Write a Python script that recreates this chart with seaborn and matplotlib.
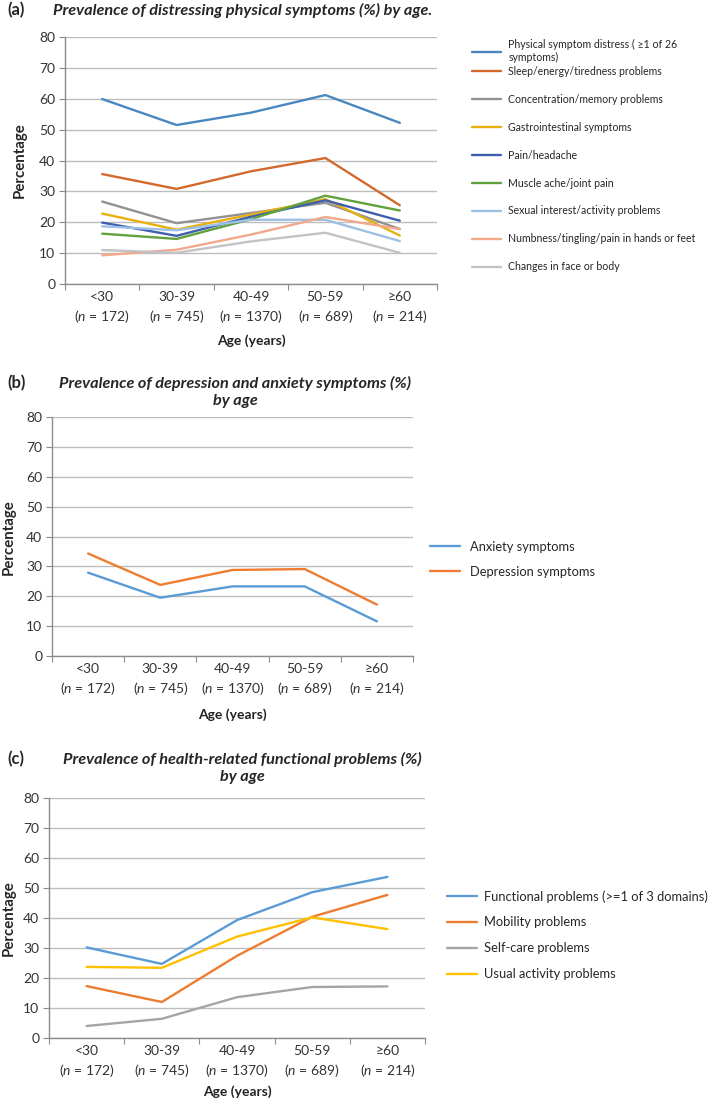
import pandas as pd
import numpy as np
import seaborn as sns
import matplotlib.pyplot as plt
from matplotlib.ticker import FixedLocator, NullFormatter

# age groups and sample sizes (shared by all three panels)
age_groups = ['<30', '30-39', '40-49', '50-59', '≥60']
n_sizes = [172, 745, 1370, 689, 214]

# (a) distressing physical symptoms (%)
phys_names = ['Physical symptom distress ( ≥1 of 26\nsymptoms)',
              'Sleep/energy/tiredness problems',
              'Concentration/memory problems',
              'Gastrointestinal symptoms',
              'Pain/headache',
              'Muscle ache/joint pain',
              'Sexual interest/activity problems',
              'Numbness/tingling/pain in hands or feet',
              'Changes in face or body']
physical_distress = [59.9, 51.5, 55.5, 61.2, 52.2]
sleep_energy = [35.6, 30.8, 36.5, 40.8, 25.5]
concentration = [26.7, 19.7, 23.0, 26.3, 17.8]
gastrointestinal = [22.8, 17.6, 22.5, 27.5, 15.7]
pain_headache = [19.9, 15.6, 21.8, 27.1, 20.5]
muscle_joint = [16.3, 14.6, 21.0, 28.6, 23.8]
sexual_interest = [18.7, 17.4, 20.8, 20.8, 13.9]
numbness = [9.3, 11.1, 16.0, 21.7, 17.8]
face_body = [11.0, 10.1, 13.8, 16.6, 10.1]
phys_colors = ['#4A86C0', '#D4692E', '#929292', '#E9B00E', '#3E5FAE',
               '#62A23D', '#9DC0E4', '#F3A88C', '#C3C3C3']

# (b) depression and anxiety symptoms (%)
mood_names = ['Anxiety symptoms', 'Depression symptoms']
anxiety = [27.9, 19.5, 23.3, 23.3, 11.6]
depression = [34.3, 23.8, 28.8, 29.1, 17.2]
mood_colors = ['#5B9BD5', '#ED7D31']

# (c) health-related functional problems (%)
func_names = ['Functional problems (>=1 of 3 domains)', 'Mobility problems',
              'Self-care problems', 'Usual activity problems']
functional = [30.2, 24.7, 39.3, 48.6, 53.7]
mobility = [17.3, 12.0, 27.4, 40.4, 47.7]
self_care = [4.0, 6.4, 13.6, 17.0, 17.2]
usual_activity = [23.7, 23.4, 33.8, 40.2, 36.3]
func_colors = ['#5B9BD5', '#ED7D31', '#A5A5A5', '#FFC000']

sns.set_style('white')
plt.rcParams['font.family'] = ['Lato', 'DejaVu Sans']
plt.rcParams['mathtext.fontset'] = 'custom'
plt.rcParams['mathtext.rm'] = 'Lato'
plt.rcParams['mathtext.it'] = 'Lato:italic'

W, H = 709, 1101
fig = plt.figure(figsize=(W / 100, H / 100), dpi=100)


def long_df(names, series):
    rows = []
    for name, vals in zip(names, series):
        for i, v in enumerate(vals):
            rows.append({'series': name, 'pos': i, 'value': v})
    return pd.DataFrame(rows)


def px_axes(left, right, top, bottom):
    return fig.add_axes([left / W, 1 - bottom / H, (right - left) / W, (bottom - top) / H])


def style_axes(ax, xlab_y):
    ax.set_xlim(-0.5, 4.5)
    ax.set_ylim(0, 80)
    ax.set_yticks(np.arange(0, 81, 10))
    ax.yaxis.grid(True, color='#BDBDBD', lw=1)
    ax.xaxis.grid(False)
    ax.set_axisbelow(True)
    for s in ['top', 'right']:
        ax.spines[s].set_visible(False)
    for s in ['left', 'bottom']:
        ax.spines[s].set_color('#8C8C8C')
        ax.spines[s].set_linewidth(1)
    ax.xaxis.set_major_locator(FixedLocator(np.arange(-0.5, 5, 1)))
    ax.xaxis.set_major_formatter(NullFormatter())
    ax.xaxis.set_minor_locator(FixedLocator(range(5)))
    labels = [f'{g}\n($\\it{{n}}$ = {n})' for g, n in zip(age_groups, n_sizes)]
    ax.set_xticklabels(labels, minor=True)
    ax.tick_params(axis='x', which='major', direction='out', length=4, color='#8C8C8C', bottom=True)
    ax.tick_params(axis='x', which='minor', length=0, pad=5, labelsize=10, labelcolor='#333333',
                   bottom=True)
    ax.tick_params(axis='y', direction='out', length=4, color='#8C8C8C', left=True,
                   labelsize=10, labelcolor='#333333', pad=3)
    for t in ax.get_xticklabels(minor=True):
        t.set_linespacing(1.4)
    ax.set_xlabel('')
    ax.set_ylabel('')
    if xlab_y is not None:
        fig.text((ax.get_position().x0 + ax.get_position().x1) / 2, 1 - xlab_y / H, 'Age (years)',
                 ha='center', va='center', fontsize=10, fontweight='bold', color='#222222')


def draw_panel(ax, names, series, colors):
    df = long_df(names, series)
    sns.lineplot(data=df, x='pos', y='value', hue='series', hue_order=names,
                 palette=colors, linewidth=1.7, ax=ax, legend=False)


# ---------- panel (a)
ax_a = px_axes(65, 437, 37, 284)
draw_panel(ax_a, phys_names,
           [physical_distress, sleep_energy, concentration, gastrointestinal, pain_headache,
            muscle_joint, sexual_interest, numbness, face_body], phys_colors)
style_axes(ax_a, 341)
fig.text(7 / W, 1 - 10 / H, '(a)', fontsize=12, fontweight='bold', va='center')
fig.text(243 / W, 1 - 10 / H, 'Prevalence of distressing physical symptoms (%) by age.',
         fontsize=11.7, fontweight='bold', style='italic', ha='center', va='center')
fig.text(20 / W, 1 - 160 / H, 'Percentage', rotation=90, fontsize=10.8, fontweight='bold',
         ha='center', va='center')

lines_a = ax_a.get_lines()
leg1 = fig.legend(lines_a[:1], phys_names[:1], loc='upper left',
                  bbox_to_anchor=(472 / W, 1 - 39 / H), frameon=False, fontsize=7.6,
                  handlelength=2.7, handletextpad=0.75, borderpad=0, borderaxespad=0)
leg2 = fig.legend(lines_a[1:], phys_names[1:], loc='upper left',
                  bbox_to_anchor=(472 / W, 1 - 66 / H), frameon=False, fontsize=7.6,
                  handlelength=2.7, handletextpad=0.75, borderpad=0, borderaxespad=0,
                  labelspacing=1.6)

# ---------- panel (b)
ax_b = px_axes(52, 413, 417, 656)
draw_panel(ax_b, mood_names, [anxiety, depression], mood_colors)
style_axes(ax_b, 715)
fig.text(7 / W, 1 - 383 / H, '(b)', fontsize=12, fontweight='bold', va='center')
fig.text(235 / W, 1 - 392 / H, 'Prevalence of depression and anxiety symptoms (%)\nby age',
         fontsize=11.7, fontweight='bold', style='italic', ha='center', va='center',
         linespacing=1.25)
fig.text(9 / W, 1 - 537 / H, 'Percentage', rotation=90, fontsize=10.8, fontweight='bold',
         ha='center', va='center')
fig.legend(ax_b.get_lines(), mood_names, loc='upper left',
           bbox_to_anchor=(430 / W, 1 - 541 / H), frameon=False, fontsize=9.3,
           handlelength=2.3, handletextpad=0.8, borderpad=0, borderaxespad=0,
           labelspacing=1.0)

# ---------- panel (c)
ax_c = px_axes(49, 425, 798, 1038)
draw_panel(ax_c, func_names, [functional, mobility, self_care, usual_activity], func_colors)
style_axes(ax_c, 1092)
fig.text(7 / W, 1 - 759 / H, '(c)', fontsize=12, fontweight='bold', va='center')
fig.text(242 / W, 1 - 768 / H, 'Prevalence of health-related functional problems (%)\nby age',
         fontsize=11.7, fontweight='bold', style='italic', ha='center', va='center',
         linespacing=1.25)
fig.text(9 / W, 1 - 918 / H, 'Percentage', rotation=90, fontsize=10.8, fontweight='bold',
         ha='center', va='center')
fig.legend(ax_c.get_lines(), func_names, loc='upper left',
           bbox_to_anchor=(447 / W, 1 - 890 / H), frameon=False, fontsize=9.3,
           handlelength=2.3, handletextpad=0.6, borderpad=0, borderaxespad=0,
           labelspacing=1.08)

plt.savefig('out.png', dpi=100)
